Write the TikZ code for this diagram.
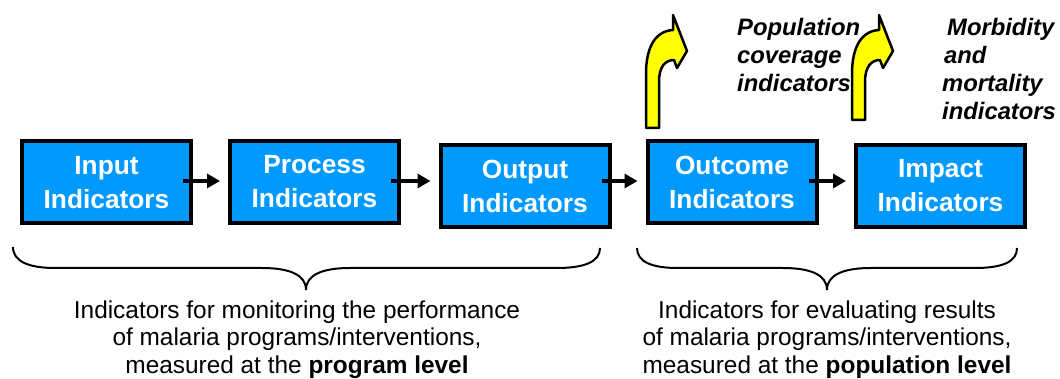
\documentclass[tikz,border=0pt]{standalone}
\usepackage{fontspec}
\setmainfont{Liberation Sans}
\usetikzlibrary{arrows.meta}
\definecolor{boxblue}{RGB}{0,153,255}
\definecolor{arrowyellow}{RGB}{255,255,0}
\newcommand{\bentarrow}[2]{%
  \draw[yarrow, shift={(#1,0)}] (0,#2) -- (0,74) .. controls (0,46) and (10,31) .. (27,30)
    -- (27,15) -- (41,51) -- (31,68) -- (28,60) .. controls (19,60) and (13,67) .. (13,82)
    -- (13,#2) -- cycle;}
\begin{document}
\begin{tikzpicture}[x=1pt,y=-1pt,
  indbox/.style={draw=black, line width=4pt, fill=boxblue, minimum width=169pt,
    minimum height=82pt, inner sep=0pt, align=center, text=white,
    font=\fontsize{26.3}{34}\selectfont\bfseries},
  conn/.style={line width=3.3pt, -{Triangle[length=13pt,width=14pt]},
    shorten <=-10pt, shorten >=8pt},
  yarrow/.style={draw=black, line width=2.5pt, fill=arrowyellow, line join=round},
  bracestyle/.style={draw=black, line width=2pt},
  note/.style={align=center, anchor=north, inner sep=0pt,
    font=\fontsize{24.4}{27.5}\selectfont},
  sidenote/.style={align=left, anchor=north west, inner sep=0pt,
    font=\fontsize{23.8}{28}\selectfont\bfseries\itshape}]
\useasboundingbox (0,0) rectangle (1060,379);

% boxes
\node[indbox] (in)   at (106.5,182.5) {Input\\Indicators};
\node[indbox] (proc) at (314.5,182)   {Process\\Indicators};
\node[indbox] (out)  at (525,186)     {Output\\Indicators};
\node[indbox] (outc) at (732,182)     {Outcome\\Indicators};
\node[indbox] (imp)  at (940.5,186)   {Impact\\Indicators};

% connectors
\coordinate (ylev) at (0,181);
\draw[conn] (in.east |- ylev)   -- (proc.west |- ylev);
\draw[conn] (proc.east |- ylev) -- (out.west |- ylev);
\draw[conn] (out.east |- ylev)  -- (outc.west |- ylev);
\draw[conn] (outc.east |- ylev) -- (imp.west |- ylev);

% yellow bent arrows
\bentarrow{646}{128}
\bentarrow{852}{120}

% side notes
\node[sidenote] (pop) at (737,18) {Population\\coverage\\indicators};
\node[sidenote] (mor) at (942,18) {\hspace{5pt}Morbidity\\\hspace{2pt}and\\mortality\\indicators};

% braces
\draw[bracestyle] (13,247) .. controls (13,262) and (30,268) .. (55,268) -- (262,268)
  .. controls (290,268) and (306,275) .. (306,290)
  .. controls (306,275) and (322,268) .. (350,268) -- (557,268)
  .. controls (584,268) and (600,262) .. (600,248);
\draw[bracestyle] (637,248) .. controls (637,262) and (652,268) .. (678,268) -- (783,268)
  .. controls (811,268) and (827,275) .. (827,290)
  .. controls (827,275) and (843,268) .. (871,268) -- (975,268)
  .. controls (1002,268) and (1017,262) .. (1017,248);

% bottom notes
\node[note] (left) at (297,300.3) {Indicators for monitoring the performance\\of malaria programs/interventions,\\measured at the \textbf{program level}};
\node[note] (right) at (827,300.3) {Indicators for evaluating results\\of malaria programs/interventions,\\measured at the \textbf{population level}};
\end{tikzpicture}
\end{document}
